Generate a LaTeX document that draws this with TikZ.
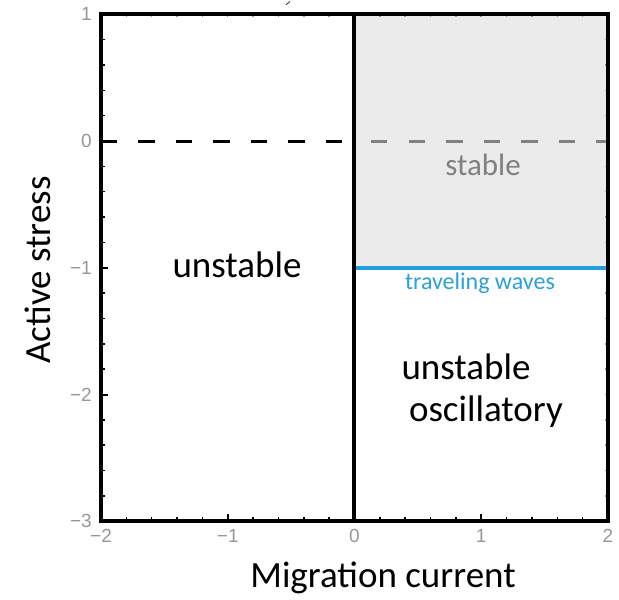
\documentclass[tikz,border=0pt]{standalone}
\usepackage{fontspec}
\setmainfont{Carlito}
\newfontfamily\arialf{Liberation Sans}
\definecolor{fillgray}{RGB}{235,235,235}
\definecolor{ticklab}{RGB}{150,150,150}
\definecolor{dashgray}{RGB}{128,128,128}
\definecolor{stabgray}{RGB}{128,128,128}
\definecolor{wave}{RGB}{30,160,220}
\definecolor{wavetext}{RGB}{45,160,215}
\tikzset{
  framebox/.style={line width=4pt},
  zeroline/.style={line width=3pt,dash pattern=on 16.5pt off 21pt},
  ticklabel/.style={font=\arialf\fontsize{19}{19}\selectfont,text=ticklab,inner sep=0pt},
  bigtext/.style={font=\fontsize{37}{44}\selectfont,inner sep=0pt},
  minortick/.style={line width=1.5pt},
}
\begin{document}
\begin{tikzpicture}[x=126.75pt,y=126.75pt]
\useasboundingbox (-2.7968,1.1124) rectangle (2.0868,-3.6134);
% stable region fill
\fill[fillgray] (0,-1) rectangle (2,1);
% zero dashed line
\coordinate (zl) at (-2,0);
\coordinate (zm) at (0,0);
\coordinate (zr) at (2,0);
\draw[zeroline,black] (zl) -- (zm);
\draw[zeroline,dashgray,dash phase=-16.5pt] (zm) -- (zr);
% traveling waves line
\coordinate (wl) at (0,-1);
\coordinate (wr) at (2,-1);
\draw[wave,line width=4.5pt] (wl) -- (wr);
% ticks
\foreach \t in {-1.8,-1.6,...,1.9}{
  \draw[minortick] (\t,-3) -- ++(0,4pt);
  \draw[minortick,black!40] (\t,1) -- ++(0,-3pt);
}
\foreach \t in {-1,1}{
  \draw[line width=2pt] (\t,-3) -- ++(0,7pt);
}
\foreach \t in {-2.8,-2.6,...,0.9}{
  \draw[minortick] (-2,\t) -- ++(4pt,0);
  \draw[minortick,black!40] (2,\t) -- ++(-3pt,0);
}
\foreach \t in {-2,-1,0}{
  \draw[line width=2pt] (-2,\t) -- ++(7pt,0);
}
% frame and middle line
\node[draw,framebox,minimum width=507pt,minimum height=507pt,inner sep=0pt] (frame) at (0,-1) {};
\coordinate (mt) at (0,1);
\coordinate (mb) at (0,-3);
\draw[line width=4pt] (mt) -- (mb);
% small mark at top
\draw[black!70,line width=1pt] (-0.54,1.075) -- (-0.51,1.1);
% tick labels
\foreach \v/\l in {1/1,0/0,-1/−1,-2/−2,-3/−3}{
  \node[ticklabel,anchor=east] (yl\v) at ([xshift=-9pt]-2,\v) {\l};
}
\foreach \v/\l in {-2/−2,-1/−1,0/0,1/1,2/2}{
  \node[ticklabel,anchor=north] (xl\v) at ([yshift=-8pt]\v,-3) {\l};
}
% axis titles
\node[bigtext,rotate=90] (ylab) at (-2.497,-1.018) {Active stress};
\node[bigtext] (xlab) at (0.225,-3.448) {Migration current};
% region labels
\node[bigtext] (unst) at (-0.927,-0.978) {unstable};
\node[font=\fontsize{31}{36}\selectfont,text=stabgray,inner sep=0pt] (stab) at (1.014,-0.189) {stable};
\node[font=\fontsize{24}{28}\selectfont,text=wavetext,inner sep=0pt] (tw) at (0.990,-1.120) {traveling waves};
\node[bigtext] (uo1) at (0.880,-1.783) {unstable};
\node[bigtext] (uo2) at (1.037,-2.138) {oscillatory};
\end{tikzpicture}
\end{document}
